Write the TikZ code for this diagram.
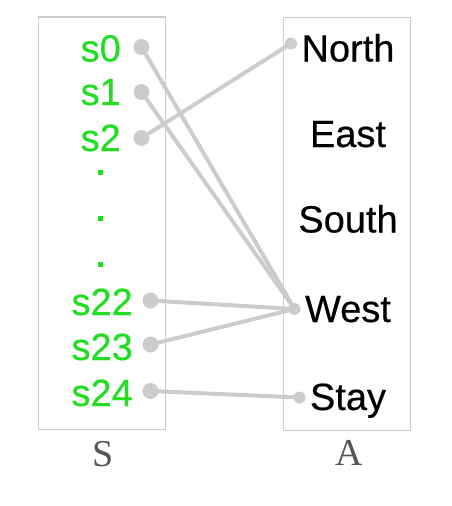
\documentclass[tikz,border=0pt]{standalone}
\usepackage{fontspec}
\setmainfont[FakeBold=0.4]{Liberation Sans}
\newfontfamily\serifx{Liberation Serif}
\definecolor{sgreen}{RGB}{34,221,34}
\definecolor{lgray}{RGB}{204,204,204}
\definecolor{axgray}{RGB}{85,85,85}
\begin{document}
\begin{tikzpicture}[x=1pt,y=-1pt,
  frame/.style={draw=lgray,line width=1.8pt},
  slab/.style={text=sgreen,font=\fontsize{38}{40}\selectfont,anchor=base east,inner sep=0pt},
  alab/.style={text=black,font=\fontsize{38}{40}\selectfont,anchor=base,inner sep=0pt},
  axlab/.style={text=axgray,font=\serifx\fontsize{38}{40}\selectfont,anchor=base,inner sep=0pt},
  dotsq/.style={fill=sgreen,inner sep=0pt,minimum size=5pt},
  pt/.style={circle,fill=lgray,inner sep=0pt,minimum size=16pt},
  link/.style={draw=lgray,line width=4pt}]
\useasboundingbox (0,0) rectangle (451,506);
\draw[frame] (38.5,17) rectangle (165.5,429.5);
\draw[frame] (283.5,17.5) rectangle (410.5,430.5);
% state labels
\node[slab] (l0) at (121,61.5) {s0};
\node[slab] (l1) at (121,105) {s1};
\node[slab] (l2) at (121,151) {s2};
\node[dotsq] (d1) at (100.3,172.3) {};
\node[dotsq] (d2) at (100.3,218.3) {};
\node[dotsq] (d3) at (100.3,264.3) {};
\node[slab] (l22) at (133,315) {s22};
\node[slab] (l23) at (133,360) {s23};
\node[slab] (l24) at (133,406) {s24};
% action labels
\node[alab] (aN) at (348,61.5) {North};
\node[alab] (aE) at (348,147) {East};
\node[alab] (aS) at (348,232.5) {South};
\node[alab] (aW) at (348,322) {West};
\node[alab] (aY) at (348,410) {Stay};
% axis labels
\node[axlab] (axS) at (102.7,466) {S};
\node[axlab] (axA) at (349,465) {A};
% dots
\node[pt] (p0) at (141.5,47) {};
\node[pt] (p1) at (141.5,92) {};
\node[pt] (p2) at (141.5,138) {};
\node[pt] (p22) at (150.5,300.5) {};
\node[pt] (p23) at (150.5,344.5) {};
\node[pt] (p24) at (150.5,391) {};
\node[pt,minimum size=12pt] (qN) at (291,43.5) {};
\node[pt,minimum size=12pt] (qW) at (294.5,309) {};
\node[pt,minimum size=12pt] (qY) at (299.5,397.5) {};
% links
\draw[link] (p0.center) -- (qW.center);
\draw[link] (p1.center) -- (qW.center);
\draw[link] (p2.center) -- (qN.center);
\draw[link] (p22.center) -- (qW.center);
\draw[link] (p23.center) -- (qW.center);
\draw[link] (p24.center) -- (qY.center);
\end{tikzpicture}
\end{document}
